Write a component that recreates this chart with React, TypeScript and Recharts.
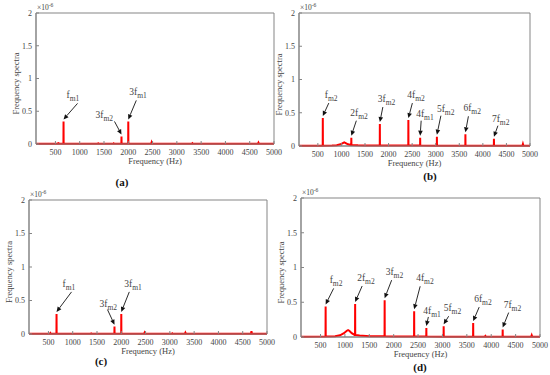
import React from 'react'
import { LineChart, Line, XAxis, YAxis, ReferenceArea, ReferenceDot } from 'recharts'

const xTicks = [500, 1000, 1500, 2000, 2500, 3000, 3500, 4000, 4500, 5000]
const yTicks = [0, 0.5, 1, 1.5, 2]

// (a) spectrum, amplitudes in 1e-6
const baseFreqA = [100, 300, 540, 560, 580, 900, 1200, 1370, 1380, 1390, 1690, 1700, 1710, 2200, 2470, 2480, 2490, 3000, 3310, 3320, 3330, 4000, 4670, 4680, 4690, 5000]
const baseAmpA = [0.004, 0.004, 0.004, 0.012, 0.004, 0.004, 0.004, 0.004, 0.01, 0.004, 0.004, 0.01, 0.004, 0.004, 0.004, 0.025, 0.004, 0.004, 0.004, 0.012, 0.004, 0.004, 0.004, 0.02, 0.004, 0.004]
const peakFreqA = [667, 1860, 2000]
const peakAmpA = [0.345, 0.115, 0.345]
const peakNameA = ['f', '3f', '3f']
const peakSubA = ['m1', 'm2', 'm1']

// (b)
const baseFreqB = [100, 500, 800, 900, 980, 1030, 1060, 1090, 1140, 1200, 1350, 1500, 2000, 3000, 4840, 4850, 4860, 5000]
const baseAmpB = [0.004, 0.004, 0.006, 0.01, 0.025, 0.045, 0.056, 0.045, 0.025, 0.015, 0.01, 0.008, 0.006, 0.004, 0.004, 0.03, 0.004, 0.004]
const peakFreqB = [605, 1210, 1815, 2420, 2670, 3025, 3630, 4235]
const peakAmpB = [0.42, 0.125, 0.33, 0.39, 0.125, 0.14, 0.176, 0.11]
const peakNameB = ['f', '2f', '3f', '4f', '4f', '5f', '6f', '7f']
const peakSubB = ['m2', 'm2', 'm2', 'm2', 'm1', 'm2', 'm2', 'm2']

// (c)
const baseFreqC = [100, 300, 530, 540, 550, 900, 1370, 1380, 1390, 2200, 2470, 2480, 2490, 3040, 3050, 3060, 3310, 3320, 3330, 4000, 4670, 4680, 4690, 5000]
const baseAmpC = [0.004, 0.004, 0.004, 0.015, 0.004, 0.004, 0.004, 0.008, 0.004, 0.004, 0.004, 0.02, 0.004, 0.004, 0.01, 0.004, 0.004, 0.02, 0.004, 0.004, 0.004, 0.04, 0.004, 0.004]
const peakFreqC = [667, 1860, 2000]
const peakAmpC = [0.3, 0.11, 0.3]
const peakNameC = ['f', '3f', '3f']
const peakSubC = ['m1', 'm2', 'm1']

// (d)
const baseFreqD = [100, 600, 800, 900, 980, 1040, 1065, 1090, 1140, 1200, 1300, 1500, 2000, 3000, 3870, 3880, 3890, 4820, 4830, 4840, 5000]
const baseAmpD = [0.005, 0.006, 0.01, 0.025, 0.055, 0.09, 0.1, 0.09, 0.055, 0.03, 0.02, 0.012, 0.008, 0.005, 0.005, 0.015, 0.005, 0.005, 0.025, 0.005, 0.005]
const peakFreqD = [605, 1210, 1815, 2420, 2670, 3025, 3630, 4235]
const peakAmpD = [0.44, 0.475, 0.53, 0.37, 0.13, 0.155, 0.2, 0.107]
const peakNameD = ['f', '2f', '3f', '4f', '4f', '5f', '6f', '7f']
const peakSubD = ['m2', 'm2', 'm2', 'm2', 'm1', 'm2', 'm2', 'm2']

// arrow layout per peak: [tail dx, tail dy, text dx, text dy] in px
const arrowsA = [[14, -16, -11, -5], [-7, -13, -19, -3], [8, -19, -7, -5]]
const arrowsB = [[6, -13, -4, -5], [5, -15, -6, -5], [3, -15, -5, -5], [4, -15, -5, -5], [1, -15, -5, -4], [4, -19, -4, -4], [3, -16, -5, -5], [4, -11, -6, -4]]
const arrowsC = [[15, -20, -9, -5], [-7, -15, -8, -3], [8, -20, -5, -5]]
const arrowsD = [[8, -16, -4, -5], [7, -16, -5, -5], [7, -18, -6, -5], [6, -23, -4, -5], [2, -9, -5, -3], [5, -8, -5, -5], [6, -14, -5, -5], [6, -15, -5, -5]]

const FONT = "'Liberation Serif', 'Times New Roman', serif"
const AXIS = '#858585'
const TEXT = '#444'

function buildSpectrum(bf: number[], ba: number[], pf: number[], pa: number[]) {
  const pts = bf.map((f, i) => ({ f, v: ba[i] }))
  pf.forEach((f, i) => {
    let k = 0
    bf.forEach((b, j) => { if (b <= f) k = j })
    const edge = ba[k]
    pts.push({ f: f - 2, v: edge }, { f, v: pa[i] }, { f: f + 2, v: edge })
  })
  return pts.sort((a, b) => a.f - b.f)
}

function arrowShape(name: string, sub: string, layout: number[]) {
  return (props: any) => {
    const { cx, cy } = props
    if (cx == null || cy == null) return <g />
    const tipX = cx
    const tipY = cy - 2
    const tailX = tipX + layout[0]
    const tailY = tipY + layout[1]
    const len = Math.hypot(tipX - tailX, tipY - tailY)
    const ux = (tipX - tailX) / len
    const uy = (tipY - tailY) / len
    const hl = 5
    const hw = 2.3
    const bx = tipX - ux * hl
    const by = tipY - uy * hl
    const pts = `${tipX},${tipY} ${bx - uy * hw},${by + ux * hw} ${bx + uy * hw},${by - ux * hw}`
    return (
      <g>
        <line x1={tailX} y1={tailY} x2={bx} y2={by} stroke="#111" strokeWidth={0.9} />
        <polygon points={pts} fill="#111" />
        <text x={tailX + layout[2]} y={tailY + layout[3]} fontFamily={FONT} fontSize={9.5} fill={TEXT}>
          {name}
          <tspan fontSize={7.5} dy={3}>{sub}</tspan>
        </text>
      </g>
    )
  }
}

const yTitle = (p: any) => {
  const vb = p.viewBox
  const x = vb.x + vb.width - 20
  const cy = vb.y + vb.height / 2 + 5
  return (
    <g>
      <text x={x} y={cy} transform={`rotate(-90 ${x} ${cy})`} textAnchor="middle" dominantBaseline="central" fontFamily={FONT} fontSize={8.5} fill={TEXT}>
        Frequency spectra
      </text>
      <text x={vb.x + vb.width + 1} y={vb.y - 3} fontFamily={FONT} fontSize={7.5} fill={TEXT}>
        ×10<tspan dy={-3} fontSize={5.5}>-6</tspan>
      </text>
    </g>
  )
}

const xTitle = (p: any) => {
  const vb = p.viewBox
  return (
    <text x={vb.x + vb.width / 2} y={vb.y + 20} textAnchor="middle" fontFamily={FONT} fontSize={8.5} fill={TEXT}>
      Frequency (Hz)
    </text>
  )
}

interface PanelProps {
  left: number
  top: number
  w: number
  h: number
  plot: number[] // l, t, r, b local
  data: { f: number; v: number }[]
  pf: number[]
  pa: number[]
  names: string[]
  subs: string[]
  arrows: number[][]
}

function Panel({ left, top, w, h, plot, data, pf, pa, names, subs, arrows }: PanelProps) {
  const [l, t, r, b] = plot
  const tick = { fontFamily: FONT, fontSize: 8, fill: TEXT }
  return (
    <div style={{ position: 'absolute', left, top }}>
      <LineChart width={w} height={h} data={data} margin={{ top: t, left: 0, right: w - r, bottom: h - b - 30 }}>
        <XAxis
          type="number"
          dataKey="f"
          domain={[100, 5000]}
          ticks={xTicks}
          allowDataOverflow
          height={30}
          tick={tick}
          tickSize={-3}
          tickMargin={8}
          stroke={AXIS}
          label={xTitle}
        />
        <XAxis xAxisId="top" orientation="top" type="number" domain={[100, 5000]} ticks={xTicks} height={0} tickSize={-3} tickFormatter={() => ''} stroke={AXIS} />
        <YAxis
          type="number"
          domain={[0, 2]}
          ticks={yTicks}
          width={l}
          tick={tick}
          tickSize={-3}
          tickMargin={7}
          stroke={AXIS}
          label={yTitle}
        />
        <YAxis yAxisId="right" orientation="right" type="number" domain={[0, 2]} ticks={yTicks} width={0} tickSize={-3} tickFormatter={() => ''} stroke={AXIS} />
        <ReferenceArea x1={100} x2={5000} y1={0} y2={2} fill="none" stroke={AXIS} />
        <Line type="linear" dataKey="v" stroke="#ff0000" strokeWidth={2} dot={false} isAnimationActive={false} />
        {pf.map((f, i) => (
          <ReferenceDot key={i} x={f} y={pa[i]} r={0} shape={arrowShape(names[i], subs[i], arrows[i])} />
        ))}
      </LineChart>
    </div>
  )
}

const captionStyle: React.CSSProperties = {
  position: 'absolute',
  transform: 'translate(-50%, -50%)',
  fontFamily: FONT,
  fontWeight: 'bold',
  fontSize: 11,
  lineHeight: 1,
  color: '#111',
}

export default function App() {
  return (
    <div style={{ position: 'absolute', left: 0, top: 0, width: 550, height: 375, background: '#fff', overflow: 'hidden' }}>
      <Panel left={0} top={0} w={290} h={187} plot={[36, 13, 274, 144]} data={buildSpectrum(baseFreqA, baseAmpA, peakFreqA, peakAmpA)} pf={peakFreqA} pa={peakAmpA} names={peakNameA} subs={peakSubA} arrows={arrowsA} />
      <Panel left={275} top={0} w={275} h={187} plot={[24, 13, 255, 146]} data={buildSpectrum(baseFreqB, baseAmpB, peakFreqB, peakAmpB)} pf={peakFreqB} pa={peakAmpB} names={peakNameB} subs={peakSubB} arrows={arrowsB} />
      <Panel left={0} top={187} w={285} h={188} plot={[29, 13, 267, 147]} data={buildSpectrum(baseFreqC, baseAmpC, peakFreqC, peakAmpC)} pf={peakFreqC} pa={peakAmpC} names={peakNameC} subs={peakSubC} arrows={arrowsC} />
      <Panel left={275} top={187} w={275} h={188} plot={[26, 11, 265, 150]} data={buildSpectrum(baseFreqD, baseAmpD, peakFreqD, peakAmpD)} pf={peakFreqD} pa={peakAmpD} names={peakNameD} subs={peakSubD} arrows={arrowsD} />
      <div style={{ ...captionStyle, left: 122, top: 182 }}>(a)</div>
      <div style={{ ...captionStyle, left: 430, top: 176 }}>(b)</div>
      <div style={{ ...captionStyle, left: 101, top: 361 }}>(c)</div>
      <div style={{ ...captionStyle, left: 420, top: 367 }}>(d)</div>
    </div>
  )
}
